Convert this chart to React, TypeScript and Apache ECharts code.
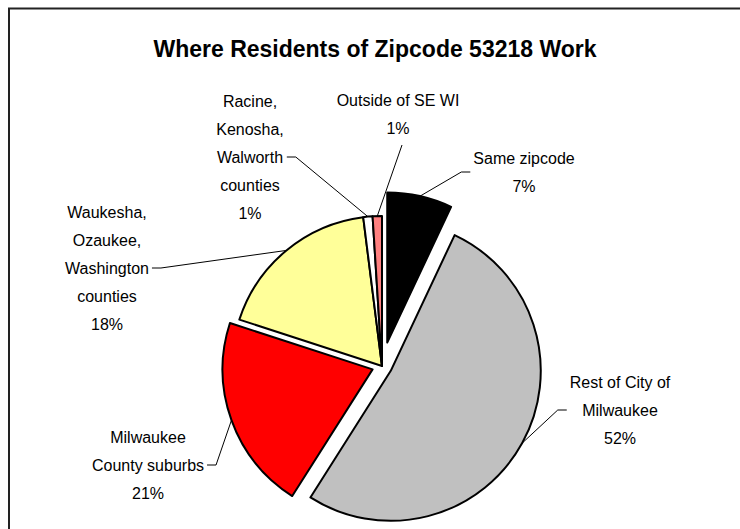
import { useEffect, useRef } from 'react';
import * as echarts from 'echarts';

// ---- data ----
const TITLE = 'Where Residents of Zipcode 53218 Work';
const categories = [
  'Same zipcode',
  'Rest of City of\nMilwaukee',
  'Milwaukee\nCounty suburbs',
  'Waukesha,\nOzaukee,\nWashington\ncounties',
  'Racine,\nKenosha,\nWalworth\ncounties',
  'Outside of SE WI',
];
const values = [7, 52, 21, 18, 1, 1];

// ---- styles / layout (not data) ----
const colors = ['#000000', '#C0C0C0', '#FF0000', '#FFFF99', '#FFFFFF', '#FF8080'];
const explodeOffset = [24, 10, 10, 0, 0, 0];
const CENTER: [number, number] = [382, 366];
const RADIUS = 150;
const FONT = "'Liberation Sans', Arial, sans-serif";
// label box centres and the side the leader line attaches to
const labelPlace = [
  { x: 524, y: 172, side: 'right' },
  { x: 620, y: 410, side: 'right' },
  { x: 148, y: 465, side: 'left' },
  { x: 107, y: 268, side: 'left' },
  { x: 250, y: 157, side: 'left' },
  { x: 398, y: 114, side: 'bottom' },
];

function sliceSeries(offset: number) {
  return {
    type: 'pie',
    center: CENTER,
    radius: RADIUS,
    startAngle: 90,
    clockwise: true,
    selectedMode: 'multiple',
    selectedOffset: offset,
    silent: true,
    emphasis: { disabled: true },
    label: { show: false },
    labelLine: { show: false },
    data: categories.map((name, i) => {
      const visible = explodeOffset[i] === offset;
      const style = visible
        ? { color: colors[i], borderColor: '#000', borderWidth: 2 }
        : { color: 'rgba(0,0,0,0)', borderWidth: 0 };
      return {
        name,
        value: values[i],
        selected: visible && offset > 0,
        itemStyle: style,
        select: { itemStyle: style },
      };
    }),
  };
}

export default function App() {
  const ref = useRef<HTMLDivElement>(null);
  useEffect(() => {
    if (!ref.current) return;
    const chart = echarts.init(ref.current, undefined, { renderer: 'svg' });
    const offsets = Array.from(new Set(explodeOffset));
    const labelSeries = {
      type: 'pie',
      center: CENTER,
      radius: RADIUS,
      startAngle: 90,
      clockwise: true,
      silent: true,
      emphasis: { disabled: true },
      avoidLabelOverlap: false,
      itemStyle: { color: 'rgba(0,0,0,0)', borderWidth: 0 },
      label: {
        show: true,
        position: 'outside',
        fontFamily: FONT,
        fontSize: 16,
        lineHeight: 28,
        color: '#000',
        formatter: (p: any) => `${p.name}\n${Math.round(p.percent)}%`,
      },
      labelLine: { show: true, lineStyle: { color: '#000', width: 1 } },
      labelLayout: (params: any) => {
        const i = params.dataIndex;
        const pl = labelPlace[i];
        const w = params.labelRect.width;
        const h = params.labelRect.height;
        const pts = params.labelLinePoints;
        let p0: number[] = pts ? [pts[0][0], pts[0][1]] : [CENTER[0], CENTER[1]];
        const dx = p0[0] - CENTER[0];
        const dy = p0[1] - CENTER[1];
        const len = Math.sqrt(dx * dx + dy * dy) || 1;
        const off = explodeOffset[i];
        p0 = [p0[0] + (dx / len) * off, p0[1] + (dy / len) * off];
        let line: number[][];
        if (pl.side === 'left') {
          const end = [pl.x + w / 2 + 3, pl.y];
          line = [p0, [end[0] + 9, end[1]], end];
        } else if (pl.side === 'right') {
          const end = [pl.x - w / 2 - 3, pl.y];
          line = [p0, [end[0] - 9, end[1]], end];
        } else {
          const end = [pl.x + 4, pl.y + h / 2 + 3];
          line = [p0, end];
        }
        return {
          x: pl.x,
          y: pl.y,
          align: 'center',
          verticalAlign: 'middle',
          labelLinePoints: line,
        };
      },
      data: categories.map((name, i) => ({ name, value: values[i] })),
    };
    chart.setOption({
      animation: false,
      backgroundColor: '#fff',
      title: {
        text: TITLE,
        left: 375,
        top: 37,
        padding: 0,
        textAlign: 'center',
        textStyle: { fontFamily: FONT, fontSize: 23, fontWeight: 'bold', color: '#000' },
      },
      graphic: [
        {
          type: 'polyline',
          shape: { points: [[9, 529], [9, 8.5], [740, 8.5]] },
          style: { stroke: '#222', lineWidth: 2, fill: null },
          silent: true,
        },
      ],
      series: [...offsets.map((o) => sliceSeries(o)), labelSeries],
    });
    return () => chart.dispose();
  }, []);
  return (
    <div
      ref={ref}
      style={{ position: 'absolute', left: 0, top: 0, width: 740, height: 529 }}
    />
  );
}
